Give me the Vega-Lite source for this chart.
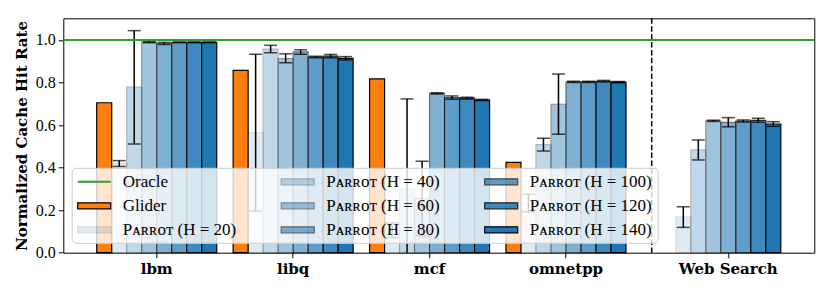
{
  "$schema": "https://vega.github.io/schema/vega-lite/v6.json",
  "width": 751,
  "height": 234.4,
  "autosize": {"type": "none"},
  "padding": {"left": 63.3, "top": 18.3, "right": 15.7, "bottom": 38.3},
  "background": "white",
  "config": {
    "view": {"stroke": "black", "strokeWidth": 1},
    "axis": {"grid": false, "domain": false, "tickColor": "black", "tickSize": 5, "tickWidth": 1, "labelColor": "black"}
  },
  "datasets": {
    "bars": [
      {"group": "lbm", "series": "Glider", "value": 0.705},
      {"group": "lbm", "series": "Parrot (H = 20)", "value": 0.419, "lo": 0.405, "hi": 0.433},
      {"group": "lbm", "series": "Parrot (H = 40)", "value": 0.778, "lo": 0.511, "hi": 1.044},
      {"group": "lbm", "series": "Parrot (H = 60)", "value": 0.990, "lo": 0.987, "hi": 0.993},
      {"group": "lbm", "series": "Parrot (H = 80)", "value": 0.984, "lo": 0.979, "hi": 0.989},
      {"group": "lbm", "series": "Parrot (H = 100)", "value": 0.989, "lo": 0.987, "hi": 0.991},
      {"group": "lbm", "series": "Parrot (H = 120)", "value": 0.989, "lo": 0.987, "hi": 0.991},
      {"group": "lbm", "series": "Parrot (H = 140)", "value": 0.989, "lo": 0.987, "hi": 0.991},
      {"group": "libq", "series": "Glider", "value": 0.857},
      {"group": "libq", "series": "Parrot (H = 20)", "value": 0.565, "lo": 0.196, "hi": 0.933},
      {"group": "libq", "series": "Parrot (H = 40)", "value": 0.957, "lo": 0.940, "hi": 0.975},
      {"group": "libq", "series": "Parrot (H = 60)", "value": 0.912, "lo": 0.893, "hi": 0.935},
      {"group": "libq", "series": "Parrot (H = 80)", "value": 0.944, "lo": 0.933, "hi": 0.954},
      {"group": "libq", "series": "Parrot (H = 100)", "value": 0.920, "lo": 0.917, "hi": 0.923},
      {"group": "libq", "series": "Parrot (H = 120)", "value": 0.924, "lo": 0.917, "hi": 0.932},
      {"group": "libq", "series": "Parrot (H = 140)", "value": 0.914, "lo": 0.906, "hi": 0.922},
      {"group": "mcf", "series": "Glider", "value": 0.817},
      {"group": "mcf", "series": "Parrot (H = 20)", "value": 0.105, "lo": 0.07, "hi": 0.14},
      {"group": "mcf", "series": "Parrot (H = 40)", "value": 0.30, "lo": -0.12, "hi": 0.723},
      {"group": "mcf", "series": "Parrot (H = 60)", "value": 0.255, "lo": 0.08, "hi": 0.43},
      {"group": "mcf", "series": "Parrot (H = 80)", "value": 0.749, "lo": 0.746, "hi": 0.752},
      {"group": "mcf", "series": "Parrot (H = 100)", "value": 0.729, "lo": 0.721, "hi": 0.737},
      {"group": "mcf", "series": "Parrot (H = 120)", "value": 0.727, "lo": 0.723, "hi": 0.731},
      {"group": "mcf", "series": "Parrot (H = 140)", "value": 0.718, "lo": 0.715, "hi": 0.721},
      {"group": "omnetpp", "series": "Glider", "value": 0.425},
      {"group": "omnetpp", "series": "Parrot (H = 20)", "value": 0.234, "lo": 0.193, "hi": 0.275},
      {"group": "omnetpp", "series": "Parrot (H = 40)", "value": 0.508, "lo": 0.478, "hi": 0.538},
      {"group": "omnetpp", "series": "Parrot (H = 60)", "value": 0.698, "lo": 0.557, "hi": 0.840},
      {"group": "omnetpp", "series": "Parrot (H = 80)", "value": 0.803, "lo": 0.800, "hi": 0.806},
      {"group": "omnetpp", "series": "Parrot (H = 100)", "value": 0.803, "lo": 0.800, "hi": 0.806},
      {"group": "omnetpp", "series": "Parrot (H = 120)", "value": 0.806, "lo": 0.802, "hi": 0.810},
      {"group": "omnetpp", "series": "Parrot (H = 140)", "value": 0.802, "lo": 0.799, "hi": 0.805},
      {"group": "Web Search", "series": "Parrot (H = 20)", "value": 0.168, "lo": 0.119, "hi": 0.216},
      {"group": "Web Search", "series": "Parrot (H = 40)", "value": 0.483, "lo": 0.436, "hi": 0.530},
      {"group": "Web Search", "series": "Parrot (H = 60)", "value": 0.620, "lo": 0.617, "hi": 0.623},
      {"group": "Web Search", "series": "Parrot (H = 80)", "value": 0.613, "lo": 0.592, "hi": 0.635},
      {"group": "Web Search", "series": "Parrot (H = 100)", "value": 0.619, "lo": 0.614, "hi": 0.624},
      {"group": "Web Search", "series": "Parrot (H = 120)", "value": 0.622, "lo": 0.613, "hi": 0.632},
      {"group": "Web Search", "series": "Parrot (H = 140)", "value": 0.605, "lo": 0.594, "hi": 0.616}
    ]
  },
  "data": {"name": "bars"},
  "layer": [
    {
      "transform": [{"filter": "datum.group !== 'Web Search'"}],
      "layer": [
        {
          "mark": {"type": "bar", "stroke": "black", "strokeWidth": 1.2},
          "encoding": {
            "x": {"field": "group", "type": "nominal", "title": null,
              "scale": {"domain": ["lbm", "libq", "mcf", "omnetpp"], "range": [25.2, 570.9], "paddingInner": 0.1204, "paddingOuter": 0.0602},
              "axis": {"orient": "bottom", "labelAngle": 0, "labelFont": "DejaVu Serif", "labelFontWeight": "bold", "labelFontSize": 15, "labelPadding": 4}},
            "xOffset": {"field": "series", "type": "nominal",
              "scale": {"domain": ["Glider", "Parrot (H = 20)", "Parrot (H = 40)", "Parrot (H = 60)", "Parrot (H = 80)", "Parrot (H = 100)", "Parrot (H = 120)", "Parrot (H = 140)"], "paddingInner": 0, "paddingOuter": 0}},
            "y": {"field": "value", "type": "quantitative", "title": "Normalized Cache Hit Rate",
              "scale": {"domain": [0, 1.102], "nice": false},
              "axis": {"values": [0, 0.2, 0.4, 0.6, 0.8, 1.0], "format": ".1f", "labelFont": "Liberation Serif", "labelFontSize": 16, "labelPadding": 3,
                "titleFont": "DejaVu Serif", "titleFontWeight": "bold", "titleFontSize": 15, "titleColor": "black", "titlePadding": 6}},
            "color": {"field": "series", "type": "nominal",
              "scale": {"domain": [" ", "Glider", "Parrot (H = 20)", "Parrot (H = 40)", "Parrot (H = 60)", "Parrot (H = 80)", "Parrot (H = 100)", "Parrot (H = 120)", "Parrot (H = 140)"],
                "range": ["#ffffff", "#ff7f0e", "#1f77b4", "#1f77b4", "#1f77b4", "#1f77b4", "#1f77b4", "#1f77b4", "#1f77b4"]},
              "legend": {
                "orient": "none", "legendX": 8.4, "legendY": 149.5, "columns": 3, "title": null,
                "fillColor": "rgba(255,255,255,0.8)", "strokeColor": "#cccccc", "cornerRadius": 4, "padding": 5,
                "symbolType": "M-2.0625,-0.375H2.0625V0.375H-2.0625Z", "symbolSize": 256, "symbolOffset": 8.5,
                "symbolStrokeColor": "black", "symbolStrokeWidth": 1.2,
                "labelOffset": 19.6, "columnPadding": 41.5, "rowPadding": 7,
                "labelFont": "Liberation Serif, DejaVu Serif", "labelFontSize": 17, "labelColor": "black", "labelLimit": 300,
                "labelExpr": "replace(datum.label, 'Parrot', 'Pᴀʀʀᴏᴛ')",
                "zindex": 1
              }},
            "opacity": {"field": "series", "type": "nominal",
              "scale": {"type": "ordinal", "domain": [" ", "Glider", "Parrot (H = 20)", "Parrot (H = 40)", "Parrot (H = 60)", "Parrot (H = 80)", "Parrot (H = 100)", "Parrot (H = 120)", "Parrot (H = 140)"],
                "range": [0, 1, 0.142857, 0.285714, 0.428571, 0.571429, 0.714286, 0.857143, 1]}}
          }
        },
        {
          "transform": [{"filter": "isValid(datum.lo)"}],
          "mark": {"type": "rule", "color": "black", "strokeWidth": 1.5, "clip": true},
          "encoding": {
            "x": {"field": "group", "type": "nominal"},
            "xOffset": {"field": "series", "type": "nominal"},
            "y": {"field": "lo", "type": "quantitative"},
            "y2": {"field": "hi"}
          }
        },
        {
          "transform": [{"filter": "isValid(datum.lo)"}],
          "mark": {"type": "tick", "orient": "horizontal", "color": "black", "size": 13, "thickness": 1.5, "clip": true},
          "encoding": {
            "x": {"field": "group", "type": "nominal"},
            "xOffset": {"field": "series", "type": "nominal"},
            "y": {"field": "lo", "type": "quantitative"}
          }
        },
        {
          "transform": [{"filter": "isValid(datum.hi)"}],
          "mark": {"type": "tick", "orient": "horizontal", "color": "black", "size": 13, "thickness": 1.5},
          "encoding": {
            "x": {"field": "group", "type": "nominal"},
            "xOffset": {"field": "series", "type": "nominal"},
            "y": {"field": "hi", "type": "quantitative"}
          }
        }
      ]
    },
    {
      "layer": [
        {
          "transform": [{"filter": "datum.group === 'Web Search'"}],
          "mark": {"type": "bar", "stroke": "black", "strokeWidth": 1.2},
          "encoding": {
            "x": {"field": "group", "type": "nominal", "title": null,
              "scale": {"domain": ["Web Search"], "range": [612.5, 717.5], "paddingInner": 0, "paddingOuter": 0},
              "axis": {"orient": "bottom", "labelAngle": 0, "labelFont": "DejaVu Serif", "labelFontWeight": "bold", "labelFontSize": 15, "labelPadding": 4}},
            "xOffset": {"field": "series", "type": "nominal",
              "scale": {"domain": ["Parrot (H = 20)", "Parrot (H = 40)", "Parrot (H = 60)", "Parrot (H = 80)", "Parrot (H = 100)", "Parrot (H = 120)", "Parrot (H = 140)"], "paddingInner": 0, "paddingOuter": 0}},
            "y": {"field": "value", "type": "quantitative"},
            "color": {"field": "series", "type": "nominal",
              "scale": {"domain": [" ", "Glider", "Parrot (H = 20)", "Parrot (H = 40)", "Parrot (H = 60)", "Parrot (H = 80)", "Parrot (H = 100)", "Parrot (H = 120)", "Parrot (H = 140)"],
                "range": ["#ffffff", "#ff7f0e", "#1f77b4", "#1f77b4", "#1f77b4", "#1f77b4", "#1f77b4", "#1f77b4", "#1f77b4"]}},
            "opacity": {"field": "series", "type": "nominal",
              "scale": {"type": "ordinal", "domain": [" ", "Glider", "Parrot (H = 20)", "Parrot (H = 40)", "Parrot (H = 60)", "Parrot (H = 80)", "Parrot (H = 100)", "Parrot (H = 120)", "Parrot (H = 140)"],
                "range": [0, 1, 0.142857, 0.285714, 0.428571, 0.571429, 0.714286, 0.857143, 1]}}
          }
        },
        {
          "transform": [{"filter": "datum.group === 'Web Search'"}],
          "mark": {"type": "rule", "color": "black", "strokeWidth": 1.5},
          "encoding": {
            "x": {"field": "group", "type": "nominal"},
            "xOffset": {"field": "series", "type": "nominal"},
            "y": {"field": "lo", "type": "quantitative"},
            "y2": {"field": "hi"}
          }
        },
        {
          "transform": [{"filter": "datum.group === 'Web Search'"}],
          "mark": {"type": "tick", "orient": "horizontal", "color": "black", "size": 13, "thickness": 1.5},
          "encoding": {
            "x": {"field": "group", "type": "nominal"},
            "xOffset": {"field": "series", "type": "nominal"},
            "y": {"field": "lo", "type": "quantitative"}
          }
        },
        {
          "transform": [{"filter": "datum.group === 'Web Search'"}],
          "mark": {"type": "tick", "orient": "horizontal", "color": "black", "size": 13, "thickness": 1.5},
          "encoding": {
            "x": {"field": "group", "type": "nominal"},
            "xOffset": {"field": "series", "type": "nominal"},
            "y": {"field": "hi", "type": "quantitative"}
          }
        },
        {
          "data": {"values": [{"sep": "Web Search"}]},
          "mark": {"type": "rule", "color": "black", "strokeWidth": 1.5, "strokeDash": [5.5, 2.4]},
          "encoding": {
            "x": {"datum": "Web Search", "bandPosition": -0.2295}
          }
        }
      ]
    },
    {
      "data": {"values": [{"line": "Oracle"}]},
      "mark": {"type": "rule", "strokeWidth": 2},
      "encoding": {
        "y": {"datum": 1},
        "stroke": {"datum": "Oracle",
          "scale": {"domain": ["Oracle"], "range": ["#2ca02c"]},
          "legend": {
            "orient": "none", "legendX": 8.4, "legendY": 149.5, "title": null,
            "fillColor": "transparent", "strokeColor": "transparent", "padding": 5,
            "symbolType": "M-2.0625,0H2.0625", "symbolSize": 256, "symbolOffset": 8.5, "symbolStrokeWidth": 2,
            "labelOffset": 19.6, "rowPadding": 7,
            "labelFont": "Liberation Serif, DejaVu Serif", "labelFontSize": 17, "labelColor": "black",
            "zindex": 2
          }}
      }
    }
  ],
  "resolve": {"scale": {"x": "independent", "xOffset": "independent"}, "axis": {"x": "independent"}}
}
